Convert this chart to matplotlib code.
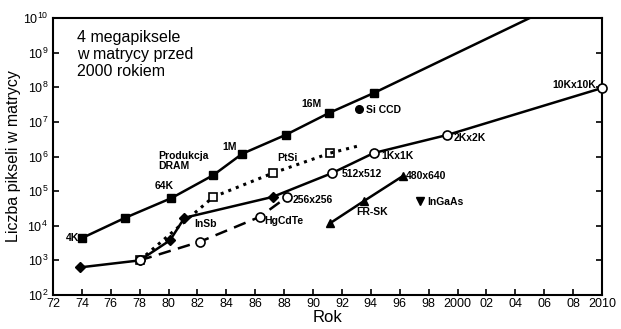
import matplotlib
matplotlib.use("Agg")
from matplotlib import pyplot as plt

plt.rcParams['font.family'] = ['Liberation Sans', 'DejaVu Sans']

# produkcja DRAM
dram_rok = [1974, 1977, 1980.2, 1983.1, 1985.1, 1988.1, 1991.1, 1994.2]
dram_pix = [4.4e3, 1.7e4, 6.3e4, 2.9e5, 1.2e6, 4.2e6, 1.8e7, 6.8e7]
dram_trend_rok = [1994.2, 2005.0]
dram_trend_pix = [6.8e7, 1e10]

# InSb (pełne romby)
insb_rok = [1973.9, 1978.0, 1980.1, 1981.1, 1987.2]
insb_pix = [6.3e2, 1.0e3, 3.8e3, 1.7e4, 6.8e4]

# Si CCD (puste kółka)
si_rok = [1987.2, 1991.3, 1994.2, 1999.3, 2010.0]
si_pix = [6.8e4, 3.3e5, 1.26e6, 4.2e6, 9.5e7]

# HgCdTe (linia przerywana)
hgcdte_rok = [1978.0, 1982.2, 1986.3, 1988.2]
hgcdte_pix = [1.0e3, 3.5e3, 1.8e4, 6.8e4]

# PtSi (kropkowana)
ptsi_rok = [1978.0, 1983.1, 1987.2, 1991.2]
ptsi_pix = [1.0e3, 6.8e4, 3.3e5, 1.26e6]
ptsi_trend_rok = [1991.2, 1993.3]
ptsi_trend_pix = [1.26e6, 2.1e6]

# trójkąty
tri_rok = [1991.2, 1993.5, 1996.2]
tri_pix = [1.2e4, 5.1e4, 2.7e5]

ingaas_rok = [1997.4]
ingaas_pix = [5.1e4]
siccd_rok = [1993.2]
siccd_pix = [2.3e7]

xticks = list(range(1972, 2011, 2))
xtick_labels = [str(r % 100) if r < 2000 else ("2000" if r == 2000 else "%02d" % (r % 100)) for r in xticks]
xtick_labels[-1] = "2010"

fig = plt.figure(figsize=(6.21, 3.29), dpi=100)
ax = fig.add_axes([0.0853, 0.1033, 0.8841, 0.842])

lw = 1.8
ms = 5.5
ax.plot(dram_rok, dram_pix, '-s', color='black', lw=lw, ms=ms)
ax.plot(dram_trend_rok, dram_trend_pix, '-', color='black', lw=lw)
ax.plot(si_rok, si_pix, '-', color='black', lw=lw)
ax.plot(si_rok[1:], si_pix[1:], 'o', color='black', mfc='white', ms=ms + 1,
        mew=1.2, clip_on=False, zorder=5)
ax.plot(insb_rok, insb_pix, '-D', color='black', lw=lw, ms=ms)
ax.plot(ptsi_rok, ptsi_pix, ':s', color='black', lw=lw + 0.4, ms=ms,
        mfc='white', mew=1.2)
ax.plot(ptsi_trend_rok, ptsi_trend_pix, ':', color='black', lw=lw + 0.4)
ax.plot(hgcdte_rok, hgcdte_pix, '--o', color='black', lw=lw, ms=ms + 1,
        mfc='white', mew=1.2, dashes=(5, 3))
ax.plot(tri_rok, tri_pix, '-^', color='black', lw=lw, ms=ms + 0.5)
ax.plot(ingaas_rok, ingaas_pix, 'v', color='black', ms=ms + 0.5)
ax.plot(siccd_rok, siccd_pix, 'o', color='black', ms=ms)

fs = 7.5
labels = [
    ("4K", 1973.8, 10 ** 3.64, 'right'),
    ("64K", 1979.7, 10 ** 5.14, 'center'),
    ("1M", 1984.2, 10 ** 6.27, 'center'),
    ("16M", 1989.9, 10 ** 7.51, 'center'),
    ("Produkcja\nDRAM", 1979.3, 10 ** 5.87, 'left'),
    ("Si CCD", 1993.7, 10 ** 7.34, 'left'),
    ("PtSi", 1987.5, 10 ** 5.95, 'left'),
    ("512x512", 1992.0, 10 ** 5.49, 'left'),
    ("1Kx1K", 1994.7, 10 ** 6.01, 'left'),
    ("2Kx2K", 1999.7, 10 ** 6.53, 'left'),
    ("10Kx10K", 2009.6, 10 ** 8.06, 'right'),
    ("256x256", 1988.6, 10 ** 4.74, 'left'),
    ("HgCdTe", 1986.6, 10 ** 4.13, 'left'),
    ("InSb", 1981.8, 10 ** 4.05, 'left'),
    ("480x640", 1996.4, 10 ** 5.43, 'left'),
    ("FR-SK", 1993.0, 10 ** 4.39, 'left'),
    ("InGaAs", 1997.9, 10 ** 4.68, 'left'),
]
for txt, x, y, ha in labels:
    ax.text(x, y, txt, fontsize=fs, ha=ha, va='center', linespacing=1.1,
            fontweight='bold')

ax.text(0.044, 0.957, "4 megapiksele\nw matrycy przed\n2000 rokiem",
        transform=ax.transAxes, fontsize=11.5, ha='left', va='top', linespacing=1.15)

ax.set_yscale('log')
ax.set_xlim(1972, 2010)
ax.set_ylim(1e2, 1e10)
ax.set_yticks([10 ** k for k in range(2, 11)])
ax.minorticks_off()
ax.set_xticks(xticks)
ax.set_xticklabels(xtick_labels)
ax.tick_params(direction='in', length=4, width=1.2, labelsize=9, right=True, top=False)
ax.tick_params(axis='x', pad=2)
for s in ax.spines.values():
    s.set_linewidth(1.5)

ax.set_xlabel("Rok", fontsize=12, labelpad=0)
ax.set_ylabel("Liczba pikseli w matrycy", fontsize=11.5, labelpad=1)

fig.savefig("out.png", dpi=100)
